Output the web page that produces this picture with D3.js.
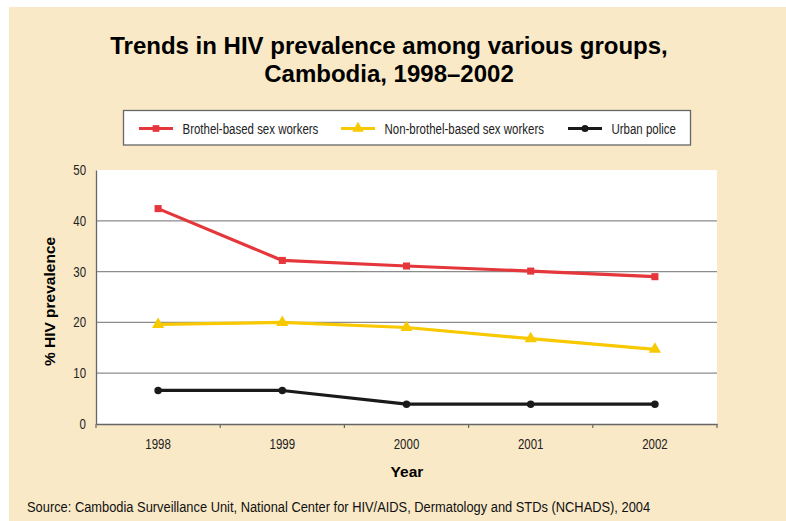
<!DOCTYPE html>
<html>
<head>
<meta charset="utf-8">
<script src="https://cdn.jsdelivr.net/npm/d3@7"></script>
<style>
  html, body { margin: 0; padding: 0; background: #ffffff; }
  svg { display: block; }
  text { font-family: "Liberation Sans", Arial, sans-serif; }
</style>
</head>
<body>
<script>
// Survey years and HIV prevalence (%) per group
const years = ["1998", "1999", "2000", "2001", "2002"];
const brothelBased = [42.4, 32.2, 31.1, 30.1, 29.0];
const nonBrothelBased = [19.6, 20.0, 19.0, 16.8, 14.7];
const urbanPolice = [6.6, 6.6, 3.9, 3.9, 3.9];
const yTicks = [0, 10, 20, 30, 40, 50];

const seriesNames = ["Brothel-based sex workers", "Non-brothel-based sex workers", "Urban police"];
const seriesColors = ["#e5363b", "#f8c800", "#1a1a1a"];
const seriesMarkers = [d3.symbolSquare, d3.symbolTriangle, d3.symbolCircle];
const series = [brothelBased, nonBrothelBased, urbanPolice].map((values, i) => ({
  name: seriesNames[i], color: seriesColors[i], marker: seriesMarkers[i], values
}));

// horizontal squeeze that gives the regular labels a narrow face
const NARROW = 0.82;

const W = 786, H = 521;
const svg = d3.select("body").append("svg").attr("width", W).attr("height", H);

// panel background
svg.append("rect").attr("x", 9).attr("y", 7).attr("width", W - 9).attr("height", H - 7)
  .attr("fill", "#f9e9c7");

// title
const title = svg.append("text").attr("text-anchor", "middle")
  .attr("font-size", 24).attr("font-weight", "bold").attr("fill", "#000");
title.append("tspan").attr("x", 389).attr("y", 54).text("Trends in HIV prevalence among various groups,");
title.append("tspan").attr("x", 389).attr("y", 82).text("Cambodia, 1998\u20132002");

// plot area
const m = { left: 96, right: 717, top: 170, bottom: 424 };
svg.append("rect").attr("x", m.left).attr("y", m.top)
  .attr("width", m.right - m.left).attr("height", m.bottom - m.top).attr("fill", "#ffffff");

const x = d3.scaleBand().domain(years).range([m.left, m.right]);
const y = d3.scaleLinear().domain([0, 50]).range([m.bottom, m.top]);

// horizontal gridlines
svg.append("g").selectAll("line").data(yTicks.filter(t => t > 0 && t < 50)).join("line")
  .attr("x1", m.left).attr("x2", m.right)
  .attr("y1", d => y(d)).attr("y2", d => y(d))
  .attr("stroke", "#8c8c8c").attr("stroke-width", 1.2);

// y axis
const yAxis = svg.append("g").attr("transform", `translate(${m.left},0)`)
  .call(d3.axisLeft(y).tickValues(yTicks).tickSize(0).tickPadding(10));
yAxis.select(".domain").attr("stroke", "#666").attr("stroke-width", 1.3);
yAxis.selectAll("text").attr("font-size", 14).attr("fill", "#222")
  .attr("x", -10 / NARROW).attr("transform", `scale(${NARROW},1)`);

// x axis with ticks at category boundaries
const xAxis = svg.append("g").attr("transform", `translate(0,${m.bottom})`)
  .call(d3.axisBottom(x).tickSize(0).tickPadding(15));
xAxis.select(".domain").attr("stroke", "#666").attr("stroke-width", 1.3);
xAxis.selectAll("text").attr("font-size", 14).attr("fill", "#222")
  .attr("transform", `scale(${NARROW},1)`);
const boundaries = years.map(d => x(d)).concat([x(years[years.length - 1]) + x.bandwidth()]);
xAxis.append("g").selectAll("line").data(boundaries).join("line")
  .attr("x1", d => d).attr("x2", d => d).attr("y1", 0).attr("y2", 4)
  .attr("stroke", "#666").attr("stroke-width", 1.2);

// axis titles
svg.append("text").attr("x", 407).attr("y", 477).attr("text-anchor", "middle")
  .attr("font-size", 15.5).attr("font-weight", "bold").attr("fill", "#000").text("Year");
svg.append("text").attr("transform", "translate(54.5,301.5) rotate(-90)").attr("text-anchor", "middle")
  .attr("font-size", 15.5).attr("font-weight", "bold").attr("fill", "#000").text("% HIV prevalence");

// series lines and markers
const cx = d => x(d) + x.bandwidth() / 2;
const line = d3.line().x((d, i) => cx(years[i])).y(d => y(d));
const markerSize = [50, 64, 44];
series.forEach((s, si) => {
  const g = svg.append("g");
  g.append("path").datum(s.values).attr("d", line)
    .attr("fill", "none").attr("stroke", s.color).attr("stroke-width", 3.2)
    .attr("stroke-linejoin", "round");
  g.selectAll("path.mk").data(s.values).join("path").attr("class", "mk")
    .attr("transform", (d, i) => `translate(${cx(years[i])},${y(d)})`)
    .attr("d", d3.symbol().type(s.marker).size(markerSize[si]))
    .attr("fill", s.color);
});

// legend
svg.append("rect").attr("x", 123.5).attr("y", 110.5).attr("width", 567).attr("height", 34.5)
  .attr("fill", "#ffffff").attr("stroke", "#666").attr("stroke-width", 1.3);
const legendX = [139, 341, 568];
const legendY = 128.5;
series.forEach((s, i) => {
  const g = svg.append("g").attr("transform", `translate(${legendX[i]},${legendY})`);
  g.append("line").attr("x1", 0).attr("x2", 34).attr("y1", 0).attr("y2", 0)
    .attr("stroke", s.color).attr("stroke-width", 3);
  g.append("path").attr("transform", "translate(17,0)")
    .attr("d", d3.symbol().type(s.marker).size(markerSize[i] * 0.9)).attr("fill", s.color);
  g.append("text").attr("transform", `translate(43.5,5) scale(${NARROW},1)`)
    .attr("font-size", 14).attr("fill", "#222").text(s.name);
});

// source note
svg.append("text").attr("transform", `translate(27,511.5) scale(0.83,1)`)
  .attr("font-size", 15.5).attr("fill", "#111")
  .text("Source: Cambodia Surveillance Unit, National Center for HIV/AIDS, Dermatology and STDs (NCHADS), 2004");
</script>
</body>
</html>
